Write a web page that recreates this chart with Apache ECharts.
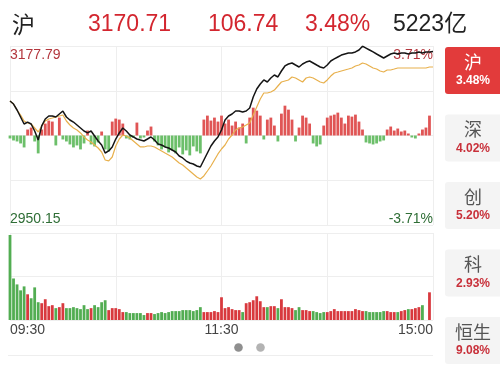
<!DOCTYPE html>
<html><head><meta charset="utf-8">
<script src="https://cdn.jsdelivr.net/npm/echarts@6/dist/echarts.min.js"></script>
<style>html,body{margin:0;padding:0;background:#fff}#c{width:500px;height:370px}</style>
</head><body><div id="c"></div><script>
// ---- data ----
const headerTexts = ['沪', '3170.71', '106.74', '3.48%', '5223亿'];
const sideNames = ['沪', '深', '创', '科', '恒生'];
const sidePcts = ['3.48%', '4.02%', '5.20%', '2.93%', '9.08%'];
const tickLabels = ['09:30', '11:30', '15:00'];
const prevClose = 3063.97;
const priceMax = 3177.79;
const priceMin = 2950.15;

const price = [
3107.8,3104.0,3096.4,3087.5,3078.6,3081.1,3078.6,3069.7,3058.2,3076.1,
3085.0,3088.8,3088.8,3087.5,3091.3,3095.1,3087.5,3083.7,3081.1,3077.3,
3073.5,3069.7,3067.2,3069.7,3063.3,3057.0,3051.9,3041.7,3044.3,3049.4,
3059.5,3067.2,3073.5,3069.7,3064.6,3062.1,3059.5,3058.2,3057.0,3059.5,
3062.1,3058.2,3053.2,3051.9,3049.4,3048.1,3045.5,3043.0,3037.9,3035.4,
3031.5,3029.0,3027.7,3025.2,3023.9,3032.8,3041.7,3050.6,3057.0,3062.1,
3071.0,3083.7,3088.8,3091.3,3095.1,3095.1,3093.9,3095.1,3098.9,3112.9,
3123.1,3129.5,3134.6,3132.0,3137.1,3140.9,3138.4,3146.0,3152.4,3154.9,
3156.2,3153.6,3151.1,3154.9,3157.4,3158.7,3156.2,3153.6,3151.1,3149.8,
3153.6,3158.7,3161.3,3163.8,3166.3,3167.6,3168.9,3168.9,3170.2,3172.7,
3177.6,3175.2,3172.7,3170.2,3167.6,3165.1,3162.5,3165.1,3167.6,3168.9,
3167.6,3168.9,3168.9,3167.6,3168.9,3168.9,3170.2,3168.9,3170.2,3170.2,
3170.71];

const avgPrice = [
3107.8,3104.0,3096.4,3090.0,3082.4,3079.9,3078.6,3073.5,3068.4,3076.1,
3082.4,3085.0,3086.2,3087.5,3088.8,3090.0,3082.4,3077.3,3073.5,3071.0,
3067.2,3062.1,3058.3,3055.7,3051.9,3048.1,3043.0,3032.8,3031.6,3036.6,
3050.6,3059.5,3064.6,3063.3,3060.8,3057.0,3053.2,3049.4,3049.4,3050.6,
3050.6,3049.4,3046.8,3044.3,3041.7,3039.2,3036.6,3032.8,3029.0,3026.5,
3022.6,3018.8,3015.0,3011.2,3008.7,3012.5,3018.8,3025.2,3032.8,3040.5,
3046.8,3051.9,3059.5,3064.6,3071.0,3073.5,3074.8,3077.3,3079.9,3090.0,
3100.2,3110.4,3118.0,3118.0,3119.3,3121.8,3126.9,3132.0,3133.3,3134.6,
3138.4,3137.1,3134.6,3132.0,3137.1,3138.4,3137.1,3134.6,3132.0,3130.7,
3134.6,3139.6,3143.5,3144.7,3146.0,3147.3,3148.5,3149.8,3152.4,3153.6,
3156.2,3154.9,3152.4,3149.8,3148.5,3146.0,3144.7,3147.3,3147.3,3148.5,
3149.8,3149.8,3149.8,3149.8,3149.8,3149.8,3149.8,3149.8,3149.8,3151.1,
3151.1];

const flow = [
-3,-5,-6,-8,-12,6,8,-6,-18,6,
12,15,14,-10,18,-4,-6,-9,-12,-10,
-14,-8,5,-9,-11,-7,4,-14,-16,14,
17,16,12,-3,-4,-2,13,-3,-2,5,
9,-6,-10,-14,-12,-17,-15,-18,-12,-19,
-15,-20,-11,-16,-18,16,20,15,18,14,
20,12,16,10,14,8,12,-8,18,28,
25,20,-4,16,18,10,-6,22,30,26,
16,-6,8,20,18,12,-8,-11,-9,10,
18,20,21,23,18,12,20,19,21,14,
6,-7,-8,-9,-8,-6,-5,6,9,5,
7,4,5,2,-2,-3,2,6,8,20,
0];

const volume = [
86,42,36,30,34,26,22,33,18,17,
21,14,15,12,13,17,12,12,13,12,
11,15,11,12,15,13,18,20,10,12,
12,11,8,8,7,7,7,7,5,7,
7,6,7,8,7,8,9,9,9,10,
10,10,9,10,13,8,8,8,9,8,
23,12,13,11,10,10,8,17,18,20,
24,19,13,13,14,14,12,21,13,13,
12,10,13,10,10,9,9,8,7,8,
8,9,11,9,9,9,9,9,11,10,
9,9,8,8,8,8,9,9,8,8,
8,9,10,11,11,12,13,15,0,28,
0];

// ---- categories (2-minute trading slots) ----
function hm(t){const h=Math.floor(t/60),m=t%60;return (h<10?'0':'')+h+':'+(m<10?'0':'')+m;}
const times = [];
for (let m = 0; m <= 120; m += 2) times.push(hm(9*60+30+m));
for (let m = 2; m <= 120; m += 2) times.push(hm(13*60+m));

const RED = '#d3262f', GRID = '#eeeeee';
const NUM_FONT = "'Liberation Sans', Arial, 'Noto Sans CJK SC', sans-serif";
const CJK_FONT = "'Noto Sans CJK SC', 'Liberation Sans', sans-serif";
const pctMax = ((priceMax - prevClose) / prevClose * 100);

const chart = echarts.init(document.getElementById('c'));
const graphic = [];
const hx = [12, 88, 208, 305, 393];
headerTexts.forEach((t, i) => {
  graphic.push({type:'text', left: hx[i], top: 13, style:{text:t, font: (i===0? '23px '+CJK_FONT : '23px '+NUM_FONT), fill: (i===0||i===4)?'#222':RED}});
});
const boxTops = [47, 114.5, 182, 249.5, 317];
sideNames.forEach((n, i) => {
  const sel = i === 0;
  graphic.push({type:'rect', shape:{x:445, y:boxTops[i], width:60, height:47, r:3}, style:{fill: sel ? '#e23b3b' : '#f4f4f4'}});
  graphic.push({type:'text', x:473, y:boxTops[i]+15, style:{text:n, font:'18px '+CJK_FONT, fill: sel?'#fff':'#555', align:'center', verticalAlign:'middle'}});
  graphic.push({type:'text', x:473, y:boxTops[i]+34, style:{text:sidePcts[i], font:'bold 12px '+NUM_FONT, fill: sel?'#fff':'#c8303a', align:'center', verticalAlign:'middle'}});
});
graphic.push({type:'line', shape:{x1:8, y1:355.5, x2:433, y2:355.5}, style:{stroke:'#eeeeee', lineWidth:1}});
graphic.push({type:'circle', shape:{cx:238.5, cy:347.5, r:4.3}, style:{fill:'#8f8f8f'}});
graphic.push({type:'circle', shape:{cx:260.5, cy:347.5, r:4.3}, style:{fill:'#b3b3b3'}});

const splitEvery30 = (i) => i % 30 === 0;

chart.setOption({
  animation: false,
  backgroundColor: '#fff',
  grid: [
    {left: 10, right: 67, top: 46, height: 179},
    {left: 10, right: 67, top: 233, height: 87}
  ],
  xAxis: [
    {type:'category', gridIndex:0, data:times, boundaryGap:false,
     axisLine:{show:false}, axisTick:{show:false}, axisLabel:{show:false},
     splitLine:{show:true, interval:splitEvery30, lineStyle:{color:GRID}}},
    {type:'category', gridIndex:1, data:times, boundaryGap:false,
     axisLine:{show:false}, axisTick:{show:false},
     axisLabel:{show:true, interval:(i)=> i===0||i===60||i===120, margin:3,
       formatter:(v,i)=> i===0?tickLabels[0]:(i===60?tickLabels[1]:(i===120?tickLabels[2]:'')),
       color:'#444', fontSize:14, fontFamily:NUM_FONT, alignMinLabel:'left', alignMaxLabel:'right'},
     splitLine:{show:true, interval:splitEvery30, lineStyle:{color:GRID}}}
  ],
  yAxis: [
    {type:'value', gridIndex:0, position:'left', min:priceMin, max:priceMax, scale:true,
     axisLine:{show:false}, axisTick:{show:false}, splitLine:{show:false},
     axisLabel:{inside:true, margin:0, fontFamily:NUM_FONT,
       formatter:(v)=> Math.abs(v-priceMax)<0.005 ? '{t|'+priceMax.toFixed(2)+'}' : (Math.abs(v-priceMin)<0.005 ? '{b|'+priceMin.toFixed(2)+'}' : ''),
       rich:{t:{color:'#b3363d', fontSize:14, fontFamily:NUM_FONT, padding:[18,0,0,0]},
             b:{color:'#2f6e36', fontSize:14, fontFamily:NUM_FONT, padding:[0,0,12,0]}}}},
    {type:'value', gridIndex:0, position:'right', min:-pctMax, max:pctMax,
     axisLine:{show:false}, axisTick:{show:false}, splitLine:{show:false},
     axisLabel:{inside:true, margin:0, fontFamily:NUM_FONT,
       formatter:(v)=> Math.abs(v-pctMax)<0.0005 ? '{t|'+pctMax.toFixed(2)+'%}' : (Math.abs(v+pctMax)<0.0005 ? '{b|-'+pctMax.toFixed(2)+'%}' : ''),
       rich:{t:{color:'#b3363d', fontSize:14, fontFamily:NUM_FONT, padding:[18,0,0,0]},
             b:{color:'#2f6e36', fontSize:14, fontFamily:NUM_FONT, padding:[0,0,12,0]}}}},
    {type:'value', gridIndex:0, position:'left', min:-90, max:90, interval:45,
     axisLine:{show:false}, axisTick:{show:false}, axisLabel:{show:false},
     splitLine:{show:true, lineStyle:{color:GRID}}},
    {type:'value', gridIndex:1, min:0, max:88, interval:44,
     axisLine:{show:false}, axisTick:{show:false}, axisLabel:{show:false},
     splitLine:{show:true, lineStyle:{color:GRID}}}
  ],
  series: [
    {type:'bar', xAxisIndex:0, yAxisIndex:2, data:flow, barWidth:2.8, z:1,
     itemStyle:{color:(p)=> p.value>=0 ? '#e05555' : '#6cbf6a'}},
    {type:'line', xAxisIndex:0, yAxisIndex:0, data:avgPrice, symbol:'none', z:3,
     lineStyle:{color:'#e8b04c', width:1.2}},
    {type:'line', xAxisIndex:0, yAxisIndex:0, data:price, symbol:'none', z:4,
     lineStyle:{color:'#151515', width:1.5}},
    {type:'bar', xAxisIndex:1, yAxisIndex:3, data:volume, barWidth:2.8,
     itemStyle:{color:(p)=> (p.dataIndex>0 && price[p.dataIndex]>=price[p.dataIndex-1]) ? '#d8393e' : '#52ad52'}}
  ],
  graphic: graphic
});
</script></body></html>
